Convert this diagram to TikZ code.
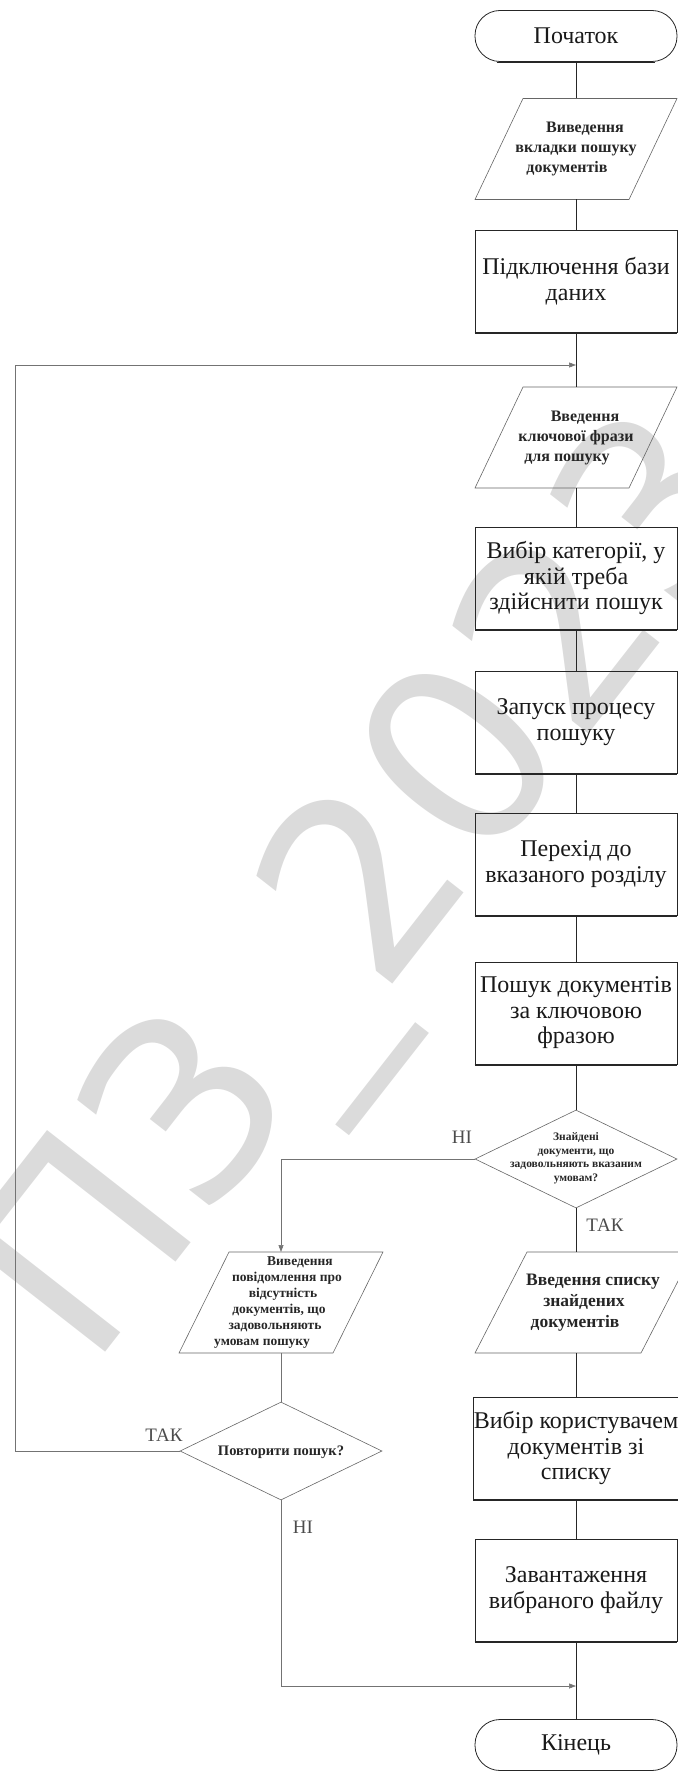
\documentclass[tikz,border=0pt]{standalone}
\usepackage{fontspec}
\setmainfont{Liberation Serif}
\newfontfamily\wmfont{DejaVu Sans}
\usetikzlibrary{shapes.geometric,arrows.meta}
\newcommand\shiftln[2]{\hspace*{#1}#2\hspace*{-#1}}
\newcommand\drawio[2]{\draw[ioline] ([xshift=-#2]#1.south west) -- ([xshift=-#2]#1.south east) -- ([xshift=#2]#1.north east) -- ([xshift=#2]#1.north west) -- cycle;}
\begin{document}
\begin{tikzpicture}[x=1pt,y=-1pt,
  mainline/.style={draw=black!85, line width=0.7pt},
  sideline/.style={draw=black!55, line width=0.6pt},
  sidearrow/.style={sideline, -{Triangle[length=7pt,width=5pt]}},
  procbox/.style={draw=black!85, line width=0.8pt, minimum width=202pt, minimum height=102pt, align=center, inner sep=0pt, text=black!90, font=\fontsize{24}{25.5}\selectfont},
  termbox/.style={draw=black!85, line width=0.8pt, rounded corners=25pt, minimum width=202pt, minimum height=51pt, inner sep=0pt, text=black!90, font=\fontsize{24}{25}\selectfont},
  iotext/.style={inner sep=0pt, outer sep=0pt, minimum height=101pt, align=center, text=black!85},
  iofont/.style={font=\bfseries\fontsize{16}{20}\selectfont},
  ioline/.style={draw=black!60, line width=0.6pt},
  decision/.style={diamond, draw=black!60, line width=0.6pt, minimum width=202pt, minimum height=98pt, inner sep=0pt},
  dtext/.style={align=center, inner sep=0pt, text=black!85},
  lbl/.style={font=\fontsize{19}{19}\selectfont, text=black!70, inner sep=0pt},
  shadowline/.style={line width=1.6pt, draw=black!85},
  wm/.style={anchor=base west, rotate=52, inner sep=0pt, text=black!14, font=\wmfont\fontsize{250}{250}\selectfont}
]
\useasboundingbox (0,0) rectangle (677,1771);
% watermark
\node[wm] (wm) at (90,1372) {ПЗ\_2023};

% main column
\node[termbox] (start) at (576,36) {Початок};
\node[iotext, iofont, minimum width=154pt] (p1) at (576,149) {\shiftln{9pt}{Виведення}\\ вкладки пошуку\\ \shiftln{-9pt}{документів}};
\drawio{p1}{24pt}
\node[procbox] (r1) at (576,281) {Підключення бази\\даних};
\coordinate (j1) at (576,365);
\node[iotext, iofont, minimum width=154pt] (p2) at (576,437.5) {\shiftln{9pt}{Введення}\\ ключової фрази\\ \shiftln{-9pt}{для пошуку}};
\drawio{p2}{24pt}
\node[procbox] (r2) at (576,578) {Вибір категорії, у\\якій треба\\здійснити пошук};
\node[procbox] (r3) at (576,722) {Запуск процесу\\пошуку};
\node[procbox] (r4) at (576,864) {Перехід до\\вказаного розділу};
\node[procbox] (r5) at (576,1013) {Пошук документів\\за ключовою\\фразою};
\node[decision] (d1) at (576,1159) {};
\node[dtext, font=\bfseries\fontsize{11.5}{13.5}\selectfont] (d1t) at (576,1158) {Знайдені\\документи, що\\задовольняють вказаним\\умовам?};
\node[iotext, minimum width=166pt, font=\bfseries\fontsize{17.5}{21}\selectfont] (p4) at (584,1302.5) {\shiftln{9pt}{Введення списку}\\ знайдених\\ \shiftln{-9pt}{документів}};
\drawio{p4}{26pt}
\node[procbox] (r6) at (576,1448) {Вибір користувачем\\документів зі\\списку};
\node[procbox] (r7) at (576,1590) {Завантаження\\вибраного файлу};
\coordinate (j2) at (576,1686);
\node[termbox] (end) at (576,1745) {Кінець};

% left column
\node[iotext, minimum width=154pt, font=\bfseries\fontsize{13.5}{16}\selectfont] (p3) at (281,1302.5) {\shiftln{19pt}{Виведення}\\ \shiftln{12pt}{повідомлення про}\\ \shiftln{4pt}{відсутність}\\ \shiftln{-4pt}{документів, що}\\ \shiftln{-12pt}{задовольняють}\\ \shiftln{-19pt}{умовам пошуку}};
\drawio{p3}{25pt}
\node[decision] (d2) at (281,1451) {};
\node[dtext, font=\bfseries\fontsize{14.5}{16}\selectfont] (d2t) at (281,1452) {Повторити пошук?};

% shadows on bottom edges
\foreach \n in {r1,r2,r3,r4,r5,r6,r7}{
  \draw[shadowline] ([yshift=-0.6pt]\n.south west) -- ([yshift=-0.6pt]\n.south east);
}
\draw[shadowline] ([xshift=22pt,yshift=-0.6pt]start.south west) -- ([xshift=-22pt,yshift=-0.6pt]start.south east);
\draw[shadowline] ([xshift=22pt,yshift=-0.6pt]end.south west) -- ([xshift=-22pt,yshift=-0.6pt]end.south east);

% corner coordinates
\coordinate (c1) at (15,1451);
\coordinate (c2) at (15,365);

% main connectors
\draw[mainline] (start) -- (p1);
\draw[mainline] (p1) -- (r1);
\draw[mainline] (r1) -- (p2);
\draw[mainline] (p2) -- (r2);
\draw[mainline] (r2) -- (r3);
\draw[mainline] (r3) -- (r4);
\draw[mainline] (r4) -- (r5);
\draw[mainline] (r5) -- (d1);
\draw[mainline] (d1.south) -- (d1.south |- p4.north);
\draw[mainline] (r6.north |- p4.south) -- (r6.north);
\draw[mainline] (r6) -- (r7);
\draw[mainline] (r7) -- (end);

% side connectors
\draw[sidearrow] (d1.west) -| (p3.north);
\draw[sideline] (p3.south) -- (d2.north);
\draw[sidearrow] (d2.west) -- (c1) -- (c2) -- (j1);
\draw[sidearrow] (d2.south) |- (j2);

% labels
\node[lbl] (l1) at (462,1137) {НІ};
\node[lbl] (l2) at (605,1225) {ТАК};
\node[lbl] (l3) at (164,1435) {ТАК};
\node[lbl] (l4) at (303,1527) {НІ};
\end{tikzpicture}
\end{document}
